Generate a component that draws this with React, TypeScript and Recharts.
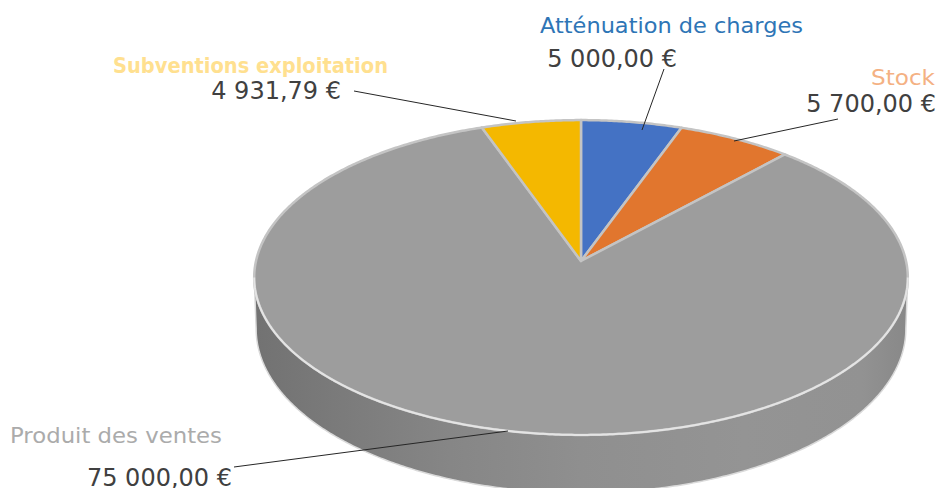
import { PieChart, Pie } from "recharts";

const categories = ["Atténuation de charges", "Stock", "Produit des ventes", "Subventions exploitation"];
const amounts = [5000, 5700, 75000, 4931.79];
const sliceColors = ["#4472C4", "#E1762E", "#9D9D9D", "#F4B800"];
const nameColors = ["#2E75B6", "#F4B183", "#ABABAB", "#FFE08F"];

// where each label sits, and where its leader line starts and ends
const labelLayout = [
  { nameX: 540, nameY: 33, nameW: 263, valueX: 677, valueY: 67, line: [664, 69, 642, 130] },
  { nameX: 871, nameY: 85, nameW: 64, valueX: 936, valueY: 112, line: [838, 119, 734, 141] },
  { nameX: 10, nameY: 443, nameW: 212, valueX: 232, valueY: 486, line: [234, 467, 508, 431] },
  { nameX: 113, nameY: 73, nameW: 275, valueX: 341, valueY: 99, line: [354, 91, 516, 121] },
];

const data = categories.map((name, i) => ({ name, value: amounts[i], fill: sliceColors[i] }));

// perspective of the tilted disc
const PERSPECTIVE = 0.1049;
const TILT = 0.479;
const WALL_DROP = 50.8;
const WALL_TILT = 0.499;
const WALL_START = 96;
const WALL_END = 264;

const project = (cx, cy, r, deg, tilt = TILT, scale = 1) => {
  const rad = (deg * Math.PI) / 180;
  const u = Math.sin(rad);
  const v = -Math.cos(rad);
  const w = 1 - PERSPECTIVE * v;
  return [cx + (r * scale * u) / w, cy + (r * tilt * v) / w];
};

const rimPoints = (cx, cy, r, from, to, tilt?, scale?) => {
  const pts = [];
  const steps = Math.max(2, Math.ceil(Math.abs(to - from) * 2));
  for (let i = 0; i <= steps; i++) {
    const [x, y] = project(cx, cy, r, from + ((to - from) * i) / steps, tilt, scale);
    pts.push(`${x.toFixed(2)} ${y.toFixed(2)}`);
  }
  return pts;
};

const formatEuro = (n) => {
  const [whole, dec] = n.toFixed(2).split(".");
  return `${whole.replace(/\B(?=(\d{3})+$)/g, " ")},${dec} €`;
};

const TiltedSlice = (props) => {
  const { cx, cy, outerRadius, startAngle, endAngle, fill } = props;
  const from = 90 - startAngle;
  const to = 90 - endAngle;
  const arc = rimPoints(cx, cy, outerRadius, from, to);
  const wallFrom = Math.max(from, WALL_START);
  const wallTo = Math.min(to, WALL_END);
  const hasWall = wallTo > wallFrom;
  const frontRim = hasWall ? rimPoints(cx, cy, outerRadius, wallFrom, wallTo) : [];
  return (
    <g>
      {hasWall && (
        <>
          <defs>
            <linearGradient id="wallShade" x1="0" y1="0" x2="1" y2="0">
              <stop offset="0" stopColor="#727272" />
              <stop offset="0.12" stopColor="#7A7A7A" />
              <stop offset="0.3" stopColor="#868686" />
              <stop offset="0.5" stopColor="#8F8F8F" />
              <stop offset="0.75" stopColor="#949494" />
              <stop offset="0.93" stopColor="#929292" />
              <stop offset="1" stopColor="#888888" />
            </linearGradient>
          </defs>
          <path
            d={`M${frontRim.join(" L")} L${rimPoints(
              cx,
              cy + WALL_DROP,
              outerRadius,
              wallTo,
              wallFrom,
              WALL_TILT,
              0.994
            ).join(" L")} Z`}
            fill="url(#wallShade)"
            stroke="#DADADA"
            strokeWidth={1.5}
          />
        </>
      )}
      <path
        d={`M${cx} ${cy} L${arc.join(" L")} Z`}
        fill={fill}
        stroke="#C4C4C4"
        strokeWidth={2.5}
        strokeLinejoin="round"
      />
      {hasWall && <path d={`M${frontRim.join(" L")}`} fill="none" stroke="#E4E4E4" strokeWidth={2} />}
    </g>
  );
};

const SliceLabel = ({ index, value }) => {
  const pos = labelLayout[index];
  const [x1, y1, x2, y2] = pos.line;
  return (
    <g>
      <line x1={x1} y1={y1} x2={x2} y2={y2} stroke="#262626" strokeWidth={1} />
      <text
        x={pos.nameX}
        y={pos.nameY}
        fontFamily="'DejaVu Sans'"
        fontSize={21}
        fontWeight={index === 3 ? 700 : 400}
        fill={nameColors[index]}
        textLength={pos.nameW}
        lengthAdjust="spacingAndGlyphs"
      >
        {categories[index]}
      </text>
      <text
        x={pos.valueX}
        y={pos.valueY}
        textAnchor="end"
        fontFamily="'DejaVu Sans'"
        fontSize={24}
        fill="#404040"
      >
        {formatEuro(value)}
      </text>
    </g>
  );
};

export default function App() {
  return (
    <div style={{ position: "fixed", left: 0, top: 0, width: 939, height: 488, overflow: "hidden", background: "#fff" }}>
      <PieChart width={939} height={488} margin={{ top: 0, right: 0, bottom: 0, left: 0 }}>
        <Pie
          data={data}
          dataKey="value"
          nameKey="name"
          cx={581}
          cy={261}
          outerRadius={325}
          startAngle={90}
          endAngle={-270}
          stroke="none"
          shape={TiltedSlice}
          label={SliceLabel}
          labelLine={false}
          isAnimationActive={false}
        />
      </PieChart>
    </div>
  );
}
